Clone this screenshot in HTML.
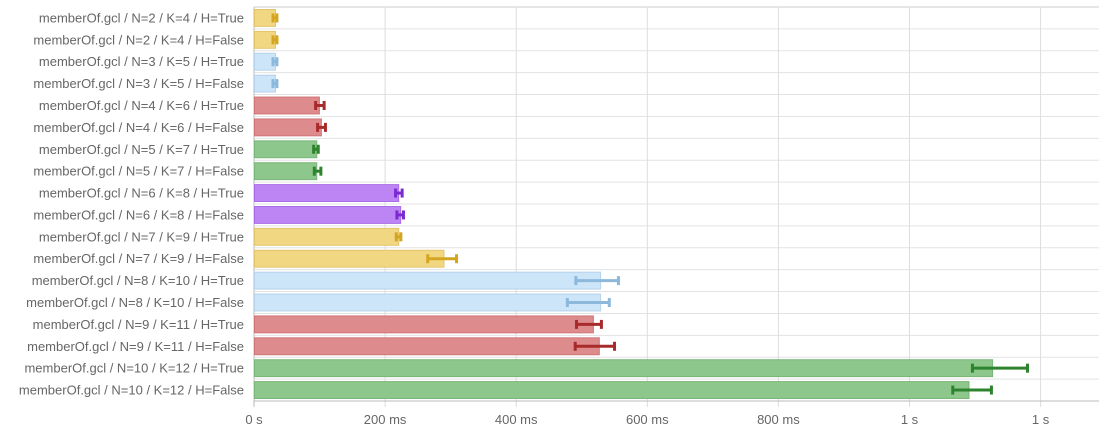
<!DOCTYPE html>
<html><head><meta charset="utf-8"><style>
body{margin:0;background:#fff;width:1099px;height:434px;overflow:hidden;font-family:"Liberation Sans",Arial,sans-serif}
</style></head><body>
<svg id="chart" width="1099" height="434" xmlns="http://www.w3.org/2000/svg"></svg>
<script>
const categories=["memberOf.gcl / N=2 / K=4 / H=True","memberOf.gcl / N=2 / K=4 / H=False","memberOf.gcl / N=3 / K=5 / H=True","memberOf.gcl / N=3 / K=5 / H=False","memberOf.gcl / N=4 / K=6 / H=True","memberOf.gcl / N=4 / K=6 / H=False","memberOf.gcl / N=5 / K=7 / H=True","memberOf.gcl / N=5 / K=7 / H=False","memberOf.gcl / N=6 / K=8 / H=True","memberOf.gcl / N=6 / K=8 / H=False","memberOf.gcl / N=7 / K=9 / H=True","memberOf.gcl / N=7 / K=9 / H=False","memberOf.gcl / N=8 / K=10 / H=True","memberOf.gcl / N=8 / K=10 / H=False","memberOf.gcl / N=9 / K=11 / H=True","memberOf.gcl / N=9 / K=11 / H=False","memberOf.gcl / N=10 / K=12 / H=True","memberOf.gcl / N=10 / K=12 / H=False"];
const values=[32,32,32,32,99,102,95,95,220,223,220,289,528,528,517,526,1126,1090];
const errLow=[29,29,29,29,94,97,91,92,216,218,217,265,491,478,492,490,1096,1066];
const errHigh=[35,35,35,35,107,109,98,102,226,228,224,309,556,542,530,550,1180,1125];
const groups=[0,0,1,1,2,2,3,3,4,4,0,0,1,1,2,2,3,3];
const ticks=[0,200,400,600,800,1000,1200];
const tickLabels=["0 s","200 ms","400 ms","600 ms","800 ms","1 s","1 s"];
const fills=["#f2d783","#cce5f8","#de8b8d","#8ec78c","#bd85f3"];
const edges=["#e3c46a","#b5d3ec","#cf7577","#79b677","#a96ce6"];
const strokes=["#d4a520","#8cb8dc","#a82b2b","#2e842e","#7b29d0"];
const NS="http://www.w3.org/2000/svg";
const svg=document.getElementById('chart');
const L=254,R=1099,T=7,B=401;
const x=v=>L+v*0.6555;
const rowH=(B-T)/categories.length;
const y=i=>T+i*rowH;
function mk(t,a){const e=document.createElementNS(NS,t);for(const k in a)e.setAttribute(k,a[k]);svg.appendChild(e);return e;}
for(let i=0;i<=categories.length;i++){const l=mk('line',{x1:L,x2:R,y1:y(i),y2:y(i),stroke:i==0?'#ccc':'#e3e3e3','stroke-width':1});

}
ticks.forEach((t,i)=>{const l=mk('line',{x1:x(t),x2:x(t),y1:T,y2:B+6,stroke:'#ddd'});


const tx=mk('text',{x:x(t),y:424,'text-anchor':'middle','font-size':13,fill:'#666'});tx.textContent=tickLabels[i];

});
mk('line',{x1:L,x2:L,y1:T,y2:B+6,stroke:'#bbb'});
mk('line',{x1:L,x2:R,y1:B,y2:B,stroke:'#bbb'});
categories.forEach((c,i)=>{const g=groups[i];const cy=y(i)+rowH/2;
const tx=mk('text',{x:244,y:cy+4.5,'text-anchor':'end','font-size':13,fill:'#666'});tx.textContent=c;


const r=mk('rect',{x:L+0.5,y:y(i)+2.5,width:x(values[i])-L,height:rowH-5,fill:fills[g],stroke:edges[g],'stroke-width':1});


const e=mk('g',{stroke:strokes[g],'stroke-width':3});


const a=x(errLow[i]),b=x(errHigh[i]);
[[a,cy,b,cy],[a,cy-4.5,a,cy+4.5],[b,cy-4.5,b,cy+4.5]].forEach(p=>{const l=document.createElementNS(NS,'line');l.setAttribute('x1',p[0]);l.setAttribute('y1',p[1]);l.setAttribute('x2',p[2]);l.setAttribute('y2',p[3]);e.appendChild(l);});
});
</script>
</body></html>
